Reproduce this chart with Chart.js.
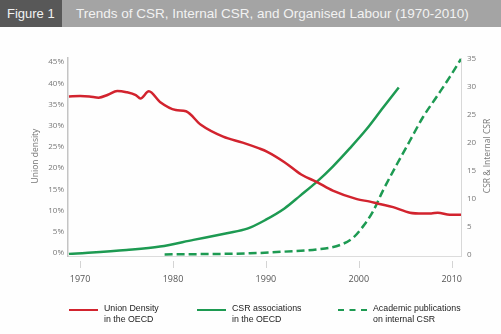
<!DOCTYPE html>
<html>
<head>
<meta charset="utf-8">
<script src="https://cdn.jsdelivr.net/npm/chart.js@4"></script>
<style>
  body { margin: 0; background: #fff; }
  #wrap { position: relative; width: 501px; height: 334px; overflow: hidden; background: #fefefe; }
  #chart { position: absolute; left: 0; top: 0; }
  .bar { position: absolute; left: 0; top: 0; width: 501px; height: 27px; background: #a4a4a4; }
  .bar .fig { position: absolute; left: 0; top: 0; width: 62px; height: 27px; background: #585858; }
  .bar span { position: absolute; top: 6px; font-family: "Liberation Sans", Arial, sans-serif; color: #f2f2f2; white-space: nowrap; }
  .legend { position: absolute; top: 303px; font-family: "Liberation Sans", Arial, sans-serif; font-size: 8.8px; line-height: 11px; color: #222; }
  .legend .swatch { position: absolute; left: 0; top: 5.5px; width: 29px; height: 0; }
  .legend .txt { position: absolute; left: 35px; top: 0; white-space: nowrap; }
</style>
</head>
<body>
<div id="wrap">
  <canvas id="chart" width="501" height="334"></canvas>
  <div class="bar">
    <div class="fig"></div>
    <span style="left:7px;font-size:13px;">Figure 1</span>
    <span style="left:76px;font-size:13.5px;">Trends of CSR, Internal CSR, and Organised Labour (1970-2010)</span>
  </div>
  <div class="legend" style="left:69px;">
    <div class="swatch" style="border-top:2.5px solid #d2232e;"></div>
    <div class="txt">Union Density<br>in the OECD</div>
  </div>
  <div class="legend" style="left:197px;">
    <div class="swatch" style="border-top:2.5px solid #1d9a52;"></div>
    <div class="txt">CSR associations<br>in the OECD</div>
  </div>
  <div class="legend" style="left:338px;">
    <div class="swatch" style="border-top:2.5px dashed #1d9a52;"></div>
    <div class="txt">Academic publications<br>on internal CSR</div>
  </div>
</div>
<script>
// Union density in the OECD (%), left axis
const unionYears = [1968.8, 1970, 1971, 1972, 1973, 1974, 1975, 1976, 1976.5, 1977.4, 1978.6, 1980.3, 1981.4, 1983, 1985.4, 1987.5, 1989.2, 1990.1, 1992, 1993.8, 1995.5, 1997.2, 1999.8, 2001.2, 2002.1, 2003.7, 2005.5, 2006.9, 2007.8, 2008.5, 2009.8, 2011]
const unionDensity = [36.9, 37.0, 36.9, 36.6, 37.3, 38.2, 37.9, 37.2, 36.4, 38.1, 35.6, 33.7, 33.4, 30.2, 27.4, 26.0, 24.7, 23.9, 21.4, 18.5, 16.7, 14.7, 12.7, 12.1, 11.6, 10.8, 9.5, 9.3, 9.3, 9.5, 9.0, 9.0]

// CSR associations in the OECD, right axis
const csrYears = [1968.8, 1975, 1978.6, 1982.2, 1985.8, 1988, 1990, 1992, 1993.7, 1995.5, 1997.2, 1999, 2000.8, 2002.6, 2004.3]
const csrAssociations = [0.2, 0.9, 1.5, 2.7, 3.9, 4.7, 6.3, 8.3, 10.6, 13.1, 15.8, 19.0, 22.4, 26.3, 29.9]

// Academic publications on internal CSR, right axis
const pubYears = [1979.1, 1988.3, 1992, 1995.5, 1998, 1999.4, 2000.5, 2001.5, 2002.6, 2004.1, 2005.5, 2006.9, 2008.4, 2009.8, 2011]
const pubCount = [0.1, 0.3, 0.6, 1.0, 1.8, 3.1, 5.2, 7.7, 11.5, 16.2, 20.4, 24.6, 28.3, 31.8, 35.0]

const yearTicks = [1970, 1980, 1990, 2000, 2010]
const densityTicks = [0, 5, 10, 15, 20, 25, 30, 35, 40, 45]
const csrTicks = [0, 5, 10, 15, 20, 25, 30, 35]

const RED = "#d2232e"
const GREEN = "#1d9a52"

const toPoints = (xs, ys) => xs.map((x, i) => ({ x, y: ys[i] }))

// small tick marks hanging below the x axis, and the two rotated axis titles
const axisDecor = {
  id: "axisDecor",
  afterDraw(chart) {
    const { ctx, chartArea, scales } = chart
    ctx.save()
    ctx.strokeStyle = "#d4d4d4"
    ctx.lineWidth = 1
    yearTicks.forEach((yr) => {
      const x = Math.round(scales.x.getPixelForValue(yr)) + 0.5
      ctx.beginPath()
      ctx.moveTo(x, chartArea.bottom + 5)
      ctx.lineTo(x, chartArea.bottom + 12)
      ctx.stroke()
    })
    ctx.fillStyle = "#777"
    ctx.font = "8.5px 'Open Sans'"
    ctx.textAlign = "center"
    ctx.textBaseline = "middle"
    const midY = (chartArea.top + chartArea.bottom) / 2 - 1
    ;[["Union density", 36], ["CSR & Internal CSR", 488]].forEach(([txt, x]) => {
      ctx.save()
      ctx.translate(x, midY)
      ctx.rotate(-Math.PI / 2)
      ctx.fillText(txt, 0, 0)
      ctx.restore()
    })
    ctx.restore()
  },
}

Chart.defaults.font.family = "'Open Sans', sans-serif"

new Chart(document.getElementById("chart"), {
  type: "line",
  data: {
    datasets: [
      {
        label: "Union Density in the OECD",
        data: toPoints(unionYears, unionDensity),
        yAxisID: "yLeft",
        borderColor: RED,
        borderWidth: 2.5,
        cubicInterpolationMode: "monotone",
      },
      {
        label: "CSR associations in the OECD",
        data: toPoints(csrYears, csrAssociations),
        yAxisID: "yRight",
        borderColor: GREEN,
        borderWidth: 2.5,
        cubicInterpolationMode: "monotone",
      },
      {
        label: "Academic publications on internal CSR",
        data: toPoints(pubYears, pubCount),
        yAxisID: "yRight",
        borderColor: GREEN,
        borderWidth: 2.5,
        borderDash: [8, 4],
        cubicInterpolationMode: "monotone",
      },
    ],
  },
  options: {
    responsive: false,
    animation: false,
    devicePixelRatio: 1,
    layout: { padding: { top: 58, bottom: 38, left: 0, right: 0 } },
    elements: { point: { radius: 0 } },
    plugins: { legend: { display: false }, tooltip: { enabled: false } },
    scales: {
      x: {
        type: "linear",
        min: 1968.7,
        max: 2011,
        afterBuildTicks: (s) => { s.ticks = yearTicks.map((v) => ({ value: v })) },
        afterFit: (s) => { s.height = 40 },
        grid: { display: false },
        border: { display: true, color: "#dcdcdc", width: 1 },
        ticks: { color: "#555", font: { size: 9 }, padding: 10, maxRotation: 0, callback: (v) => String(v) },
      },
      yLeft: {
        type: "linear",
        position: "left",
        min: -0.71,
        max: 45.95,
        afterBuildTicks: (s) => { s.ticks = densityTicks.map((v) => ({ value: v })) },
        afterFit: (s) => { s.width = 68 },
        grid: { display: false, drawTicks: false },
        border: { display: true, color: "#c4c4c4", width: 1.5 },
        ticks: { color: "#777", font: { size: 8 }, padding: 4, callback: (v) => v + "%" },
      },
      yRight: {
        type: "linear",
        position: "right",
        min: -0.18,
        max: 35.18,
        afterBuildTicks: (s) => { s.ticks = csrTicks.map((v) => ({ value: v })) },
        afterFit: (s) => { s.width = 40 },
        grid: { display: false, drawTicks: false },
        border: { display: true, color: "#d8d8d8", width: 1 },
        ticks: { color: "#777", font: { size: 8 }, padding: 6 },
      },
    },
  },
  plugins: [axisDecor],
})
</script>
</body>
</html>
